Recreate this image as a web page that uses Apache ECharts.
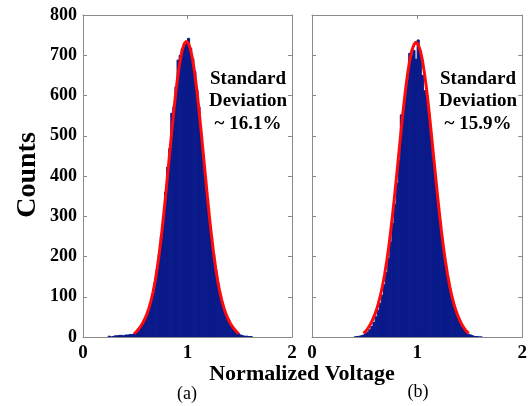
<!DOCTYPE html>
<html>
<head>
<meta charset="utf-8">
<script src="https://cdn.jsdelivr.net/npm/echarts@6/dist/echarts.min.js"></script>
<style>
  html, body { margin: 0; padding: 0; background: #fff; }
  #chart { width: 530px; height: 406px; }
</style>
</head>
<body>
<div id="chart"></div>
<script>
// histogram bins: width 0.02, first bin centre given below
var binWidth = 0.02;
var binStartA = 0.25;
var binStartB = 0.41;
var countsA = [2, 0, 1, 3, 3, 4, 4, 3, 5, 5, 6, 6,
  8, 11, 16, 22, 30, 40, 52, 68, 86, 108, 136, 168, 206, 250, 300, 360, 422, 468,
  556, 572, 622, 688, 700, 716, 726, 730, 742, 718, 692, 660, 614, 572, 505, 452,
  398, 346, 296, 248, 206, 168, 136, 110, 88, 68, 54, 42, 32, 24, 17, 12, 8, 5,
  3, 2, 2, 1, 1];
var countsB = [0, 1, 2, 3, 5, 8, 12, 18, 26, 36, 50, 66, 84, 104, 130, 160, 196,
  236, 282, 330, 382, 440, 552, 560, 600, 640, 705, 700, 712, 690, 738, 710, 650,
  612, 600, 555, 500, 450, 400, 350, 300, 258, 216, 180, 148, 120, 96, 76, 60, 46,
  34, 24, 16, 11, 7, 5, 3, 1, 1, 0, 0];

// fitted curves, sampled from 0.49 to 1.49 every 0.02
var curveStart = 0.49;
var curveA = [8, 13, 19, 26, 34, 44, 56, 71, 89, 111, 138, 170, 208, 251, 298, 350,
  404, 458, 512, 564, 612, 654, 688, 713, 729, 735, 729, 713, 688, 654, 612, 564,
  512, 458, 404, 350, 298, 251, 208, 170, 138, 111, 89, 71, 56, 44, 34, 26, 19, 13, 8];
var curveB = [9, 14, 21, 29, 39, 51, 65, 82, 102, 126, 154, 187, 224, 266, 312, 362,
  414, 467, 519, 569, 615, 655, 688, 712, 727, 733, 727, 712, 688, 655, 615, 569,
  519, 467, 414, 362, 312, 266, 224, 187, 154, 126, 102, 82, 65, 51, 39, 29, 21, 14, 9];

var xTicks = [0, 2, 1];       // min, max, interval
var yTicks = [0, 800, 100];
var noteA = ['Standard', 'Deviation', '~ 16.1%'];
var noteB = ['Standard', 'Deviation', '~ 15.9%'];

var font = 'Liberation Serif, Times New Roman, serif';
var blue = '#0a1a8a';
var frame = '#8a8a8a';

function toPairs(start, arr) {
  return arr.map(function (v, i) { return [+(start + i * binWidth).toFixed(3), v]; });
}

function histItem(params, api) {
  var c = api.value(0), v = api.value(1);
  var p0 = api.coord([c - binWidth / 2, v]);
  var p1 = api.coord([c + binWidth / 2, 0]);
  return {
    type: 'rect',
    shape: { x: p0[0], y: p0[1], width: p1[0] - p0[0], height: p1[1] - p0[1] },
    style: { fill: blue, stroke: blue, lineWidth: 1 }
  };
}

function xAx(grid, top) {
  return {
    type: 'value', gridIndex: grid, position: top ? 'top' : 'bottom',
    min: xTicks[0], max: xTicks[1], interval: xTicks[2],
    axisLine: { show: true, onZero: false, lineStyle: { color: frame, width: 1 } },
    axisTick: { show: true, inside: true, length: 4, lineStyle: { color: frame } },
    axisLabel: {
      show: !top, margin: 7, color: '#000',
      fontFamily: font, fontWeight: 'bold', fontSize: 19
    },
    splitLine: { show: false }
  };
}

function yAx(grid, right, labels) {
  return {
    type: 'value', gridIndex: grid, position: right ? 'right' : 'left',
    min: yTicks[0], max: yTicks[1], interval: yTicks[2],
    axisLine: { show: true, onZero: false, lineStyle: { color: frame, width: 1 } },
    axisTick: { show: true, inside: true, length: 4, lineStyle: { color: frame } },
    axisLabel: {
      show: labels, margin: 6, color: '#000',
      fontFamily: font, fontWeight: 'bold', fontSize: 18
    },
    splitLine: { show: false }
  };
}

function note(lines, cx) {
  return lines.map(function (t, i) {
    return {
      type: 'text', x: cx, y: 79 + i * 22.5,
      style: {
        text: t, fill: '#000', font: 'bold 19px ' + font,
        textAlign: 'center', textVerticalAlign: 'middle'
      }
    };
  });
}

var chart = echarts.init(document.getElementById('chart'));
chart.setOption({
  animation: false,
  backgroundColor: '#fff',
  grid: [
    { left: 83, top: 15, width: 209, height: 322 },
    { left: 312, top: 15, width: 211, height: 322 }
  ],
  xAxis: [xAx(0, false), xAx(0, true), xAx(1, false), xAx(1, true)],
  yAxis: [yAx(0, false, true), yAx(0, true, false), yAx(1, false, false), yAx(1, true, false)],
  series: [
    { type: 'custom', xAxisIndex: 0, yAxisIndex: 0, clip: true,
      renderItem: histItem, data: toPairs(binStartA, countsA) },
    { type: 'line', xAxisIndex: 0, yAxisIndex: 0, showSymbol: false, z: 5,
      lineStyle: { color: '#ff0a0a', width: 3 }, data: toPairs(curveStart, curveA) },
    { type: 'custom', xAxisIndex: 2, yAxisIndex: 2, clip: true,
      renderItem: histItem, data: toPairs(binStartB, countsB) },
    { type: 'line', xAxisIndex: 2, yAxisIndex: 2, showSymbol: false, z: 5,
      lineStyle: { color: '#ff0a0a', width: 3 }, data: toPairs(curveStart, curveB) }
  ],
  graphic: [
    { type: 'text', x: 28, y: 175, rotation: Math.PI / 2,
      style: { text: 'Counts', fill: '#000', font: 'bold 28px ' + font,
        textAlign: 'center', textVerticalAlign: 'middle' } },
    { type: 'text', x: 302, y: 374,
      style: { text: 'Normalized Voltage', fill: '#000', font: 'bold 22px ' + font,
        textAlign: 'center', textVerticalAlign: 'middle' } },
    { type: 'text', x: 187, y: 394,
      style: { text: '(a)', fill: '#000', font: '18px ' + font,
        textAlign: 'center', textVerticalAlign: 'middle' } },
    { type: 'text', x: 418, y: 392,
      style: { text: '(b)', fill: '#000', font: '18px ' + font,
        textAlign: 'center', textVerticalAlign: 'middle' } }
  ].concat(note(noteA, 248)).concat(note(noteB, 478))
});
</script>
</body>
</html>
